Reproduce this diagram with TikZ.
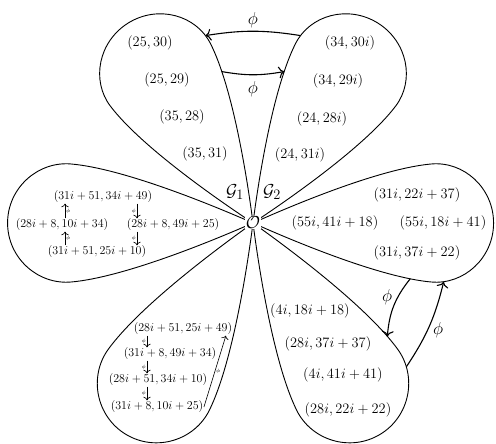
\documentclass[tikz,border=0pt]{standalone}
\usetikzlibrary{arrows.meta}
\begin{document}
\begin{tikzpicture}[x=1pt, y=1pt, every node/.style={font=\fontsize{14.8}{17}\selectfont, inner sep=1pt}]
\tikzstyle{petal}=[line width=0.9pt]
\tikzstyle{map}=[-{To[scale=1.4]}, line width=1.1pt]
\tikzstyle{phi}=[font=\fontsize{17}{20}\selectfont]
\tikzstyle{lbl}=[font=\fontsize{19}{22}\selectfont]
\tikzstyle{smallF}=[font=\fontsize{12.8}{15}\selectfont, inner sep=0.5pt]
\tikzstyle{smallE}=[font=\fontsize{11.7}{14}\selectfont, inner sep=0.5pt]
\tikzstyle{tinymap}=[-{To[scale=1.2]}, line width=0.6pt]
\tikzstyle{tinyphi}=[font=\fontsize{4}{5}\selectfont, inner sep=0.8pt]
\useasboundingbox (0,0) rectangle (496,444);
\coordinate (c) at (253,221);
\foreach \a/\s in {0/0.99, 58/0.97, 122/0.97, 180/1.01, 239/1.015, 301/1.015}
  \draw[petal, shift={(c)}, rotate=\a, xscale=\s] (0,0) .. controls (45,20) and (130,54.6) .. (180,59)
    .. controls (213,62) and (243,35) .. (243,0) .. controls (243,-35) and (213,-62) .. (180,-59)
    .. controls (130,-54.6) and (45,-20) .. (0,0);
\begin{scope}[shift={(c)}, rotate=58, xscale=0.97]
  \coordinate (ub) at (189.8,59.0); \coordinate (vb) at (149.5,53.7);
\end{scope}
\begin{scope}[shift={(c)}, rotate=122, xscale=0.97]
  \coordinate (ua) at (189.8,-59.0); \coordinate (va) at (149.5,-53.7);
\end{scope}
\begin{scope}[shift={(c)}, xscale=0.99]
  \coordinate (wc) at (158.9,-55.7); \coordinate (xc) at (192.6,-58.8);
\end{scope}
\begin{scope}[shift={(c)}, rotate=301, xscale=1.015]
  \coordinate (wd) at (164,56.7); \coordinate (xd) at (199.2,57.5);
\end{scope}
\node[fill=white, lbl, inner sep=0.5pt] (O) at (c) {$\mathcal{O}$};
\node[lbl] (G1) at (235,252) {$\mathcal{G}_1$};
\node[lbl] (G2) at (272,252) {$\mathcal{G}_2$};
\node (A1) at (150,401) {$(25,30)$};
\node (A2) at (167,364) {$(25,29)$};
\node (A3) at (182,327) {$(35,28)$};
\node (A4) at (205,290) {$(35,31)$};
\node (B1) at (350,401) {$(34,30i)$};
\node (B2) at (338,363) {$(34,29i)$};
\node (B3) at (322,325) {$(24,28i)$};
\node (B4) at (300,289) {$(24,31i)$};
\node (C1) at (417,249) {$(31i,22i+37)$};
\node (C2) at (335,221) {$(55i,41i+18)$};
\node (C3) at (443,221) {$(55i,18i+41)$};
\node (C4) at (417,191) {$(31i,37i+22)$};
\node (D1) at (310,133) {$(4i,18i+18)$};
\node (D2) at (328,100) {$(28i,37i+37)$};
\node (D3) at (343,69) {$(4i,41i+41)$};
\node (D4) at (348,34) {$(28i,22i+22)$};
\node[smallF] (F1) at (103,247) {$(31i+51,34i+49)$};
\node[smallF] (F2) at (62,219) {$(28i+8,10i+34)$};
\node[smallF] (F3) at (173,219) {$(28i+8,49i+25)$};
\node[smallF] (F4) at (97,192) {$(31i+51,25i+10)$};
\node[smallE] (E1) at (183,115) {$(28i+51,25i+49)$};
\node[smallE] (E2) at (170,90) {$(31i+8,49i+34)$};
\node[smallE] (E3) at (158,64) {$(28i+51,34i+10)$};
\node[smallE] (E4) at (157,37) {$(31i+8,10i+25)$};
\draw[map] (ub) to[bend right=9] node[phi, above=2pt] {$\phi$} (ua);
\draw[map] (va) to[bend right=10] node[phi, below=5pt] {$\phi$} (vb);
\draw[map] (wc) to[bend right=17] node[phi, pos=0.35, left=4pt] {$\phi$} (wd);
\draw[map] (xd) to[bend right=10] node[phi, pos=0.45, right=4pt] {$\phi$} (xc);
\draw[tinymap] (65,0 |- F2.north) -- (65,0 |- F1.south) node[tinyphi, midway, right] {$\phi$};
\draw[tinymap] (65,0 |- F4.north) -- (65,0 |- F2.south) node[tinyphi, midway, right] {$\phi$};
\draw[tinymap] (137,0 |- F1.south) -- (137,0 |- F3.north) node[tinyphi, midway, left] {$\phi$};
\draw[tinymap] (137,0 |- F3.south) -- (137,0 |- F4.north) node[tinyphi, midway, left] {$\phi$};
\draw[tinymap] (147,0 |- E1.south) -- (147,0 |- E2.north) node[tinyphi, midway, left] {$\phi$};
\draw[tinymap] (147,0 |- E2.south) -- (147,0 |- E3.north) node[tinyphi, midway, left] {$\phi$};
\draw[tinymap] (147,0 |- E3.south) -- (147,0 |- E4.north) node[tinyphi, midway, left] {$\phi$};
\draw[tinymap] (E4.east) -- ([xshift=-7pt]E1.south east) node[tinyphi, midway, right] {$\phi$};
\end{tikzpicture}
\end{document}
